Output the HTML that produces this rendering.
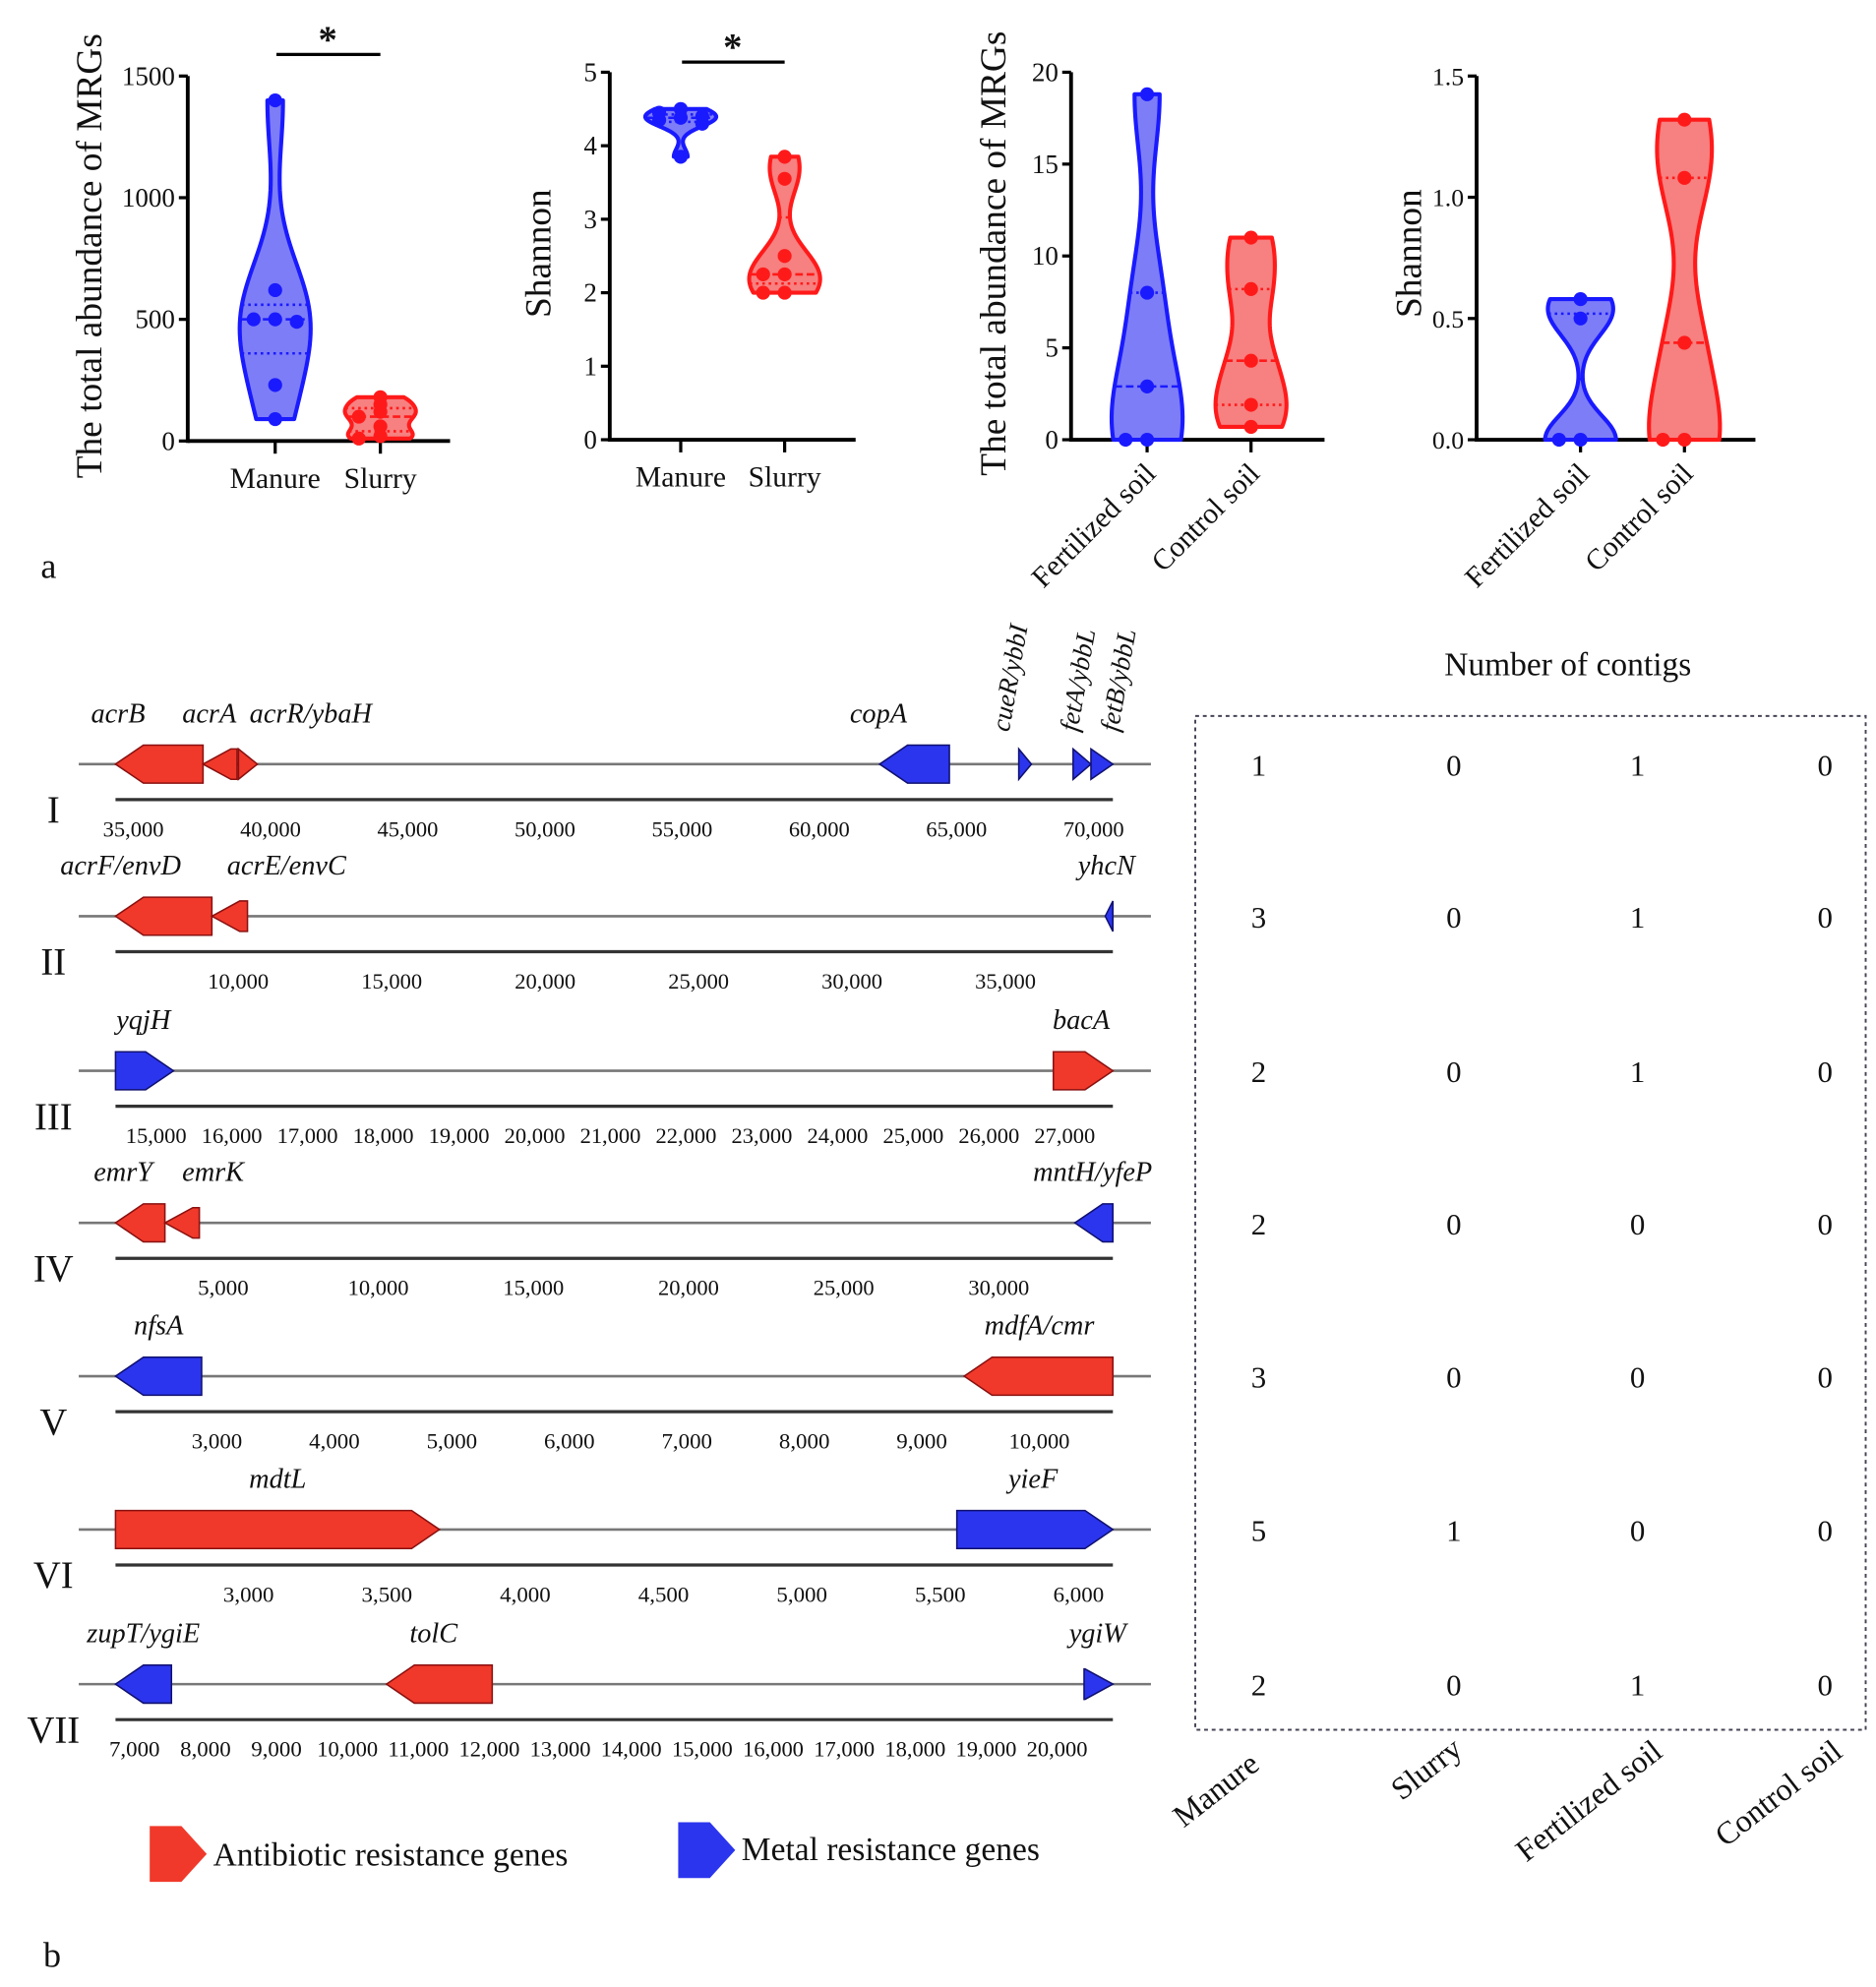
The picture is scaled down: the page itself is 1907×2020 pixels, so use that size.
<!DOCTYPE html>
<html><head><meta charset="utf-8"><style>
html,body{margin:0;padding:0;background:#fff}
svg{display:block}
text{font-family:"Liberation Serif",serif;fill:#111}
</style></head><body>
<svg id="fig" width="1907" height="2020" viewBox="0 0 1480 1568" xmlns="http://www.w3.org/2000/svg">
<g id="root"></g>
</svg>
<script>
// ---------- Panel a data ----------
const a1Categories = ["Manure", "Slurry"];
const a1Manure = [1400, 620, 500, 500, 490, 230, 90];
const a1Slurry = [180, 150, 120, 100, 60, 20, 10];
const a1Ticks = [0, 500, 1000, 1500];

const a2Categories = ["Manure", "Slurry"];
const a2Manure = [4.5, 4.45, 4.4, 4.38, 4.35, 4.3, 3.85];
const a2Slurry = [3.85, 3.55, 2.5, 2.25, 2.25, 2.0, 2.0];
const a2Ticks = [0, 1, 2, 3, 4, 5];

const a3Categories = ["Fertilized soil", "Control soil"];
const a3Fert = [18.8, 8, 2.9, 0, 0];
const a3Control = [11, 8.2, 4.3, 1.9, 0.7];
const a3Ticks = [0, 5, 10, 15, 20];

const a4Categories = ["Fertilized soil", "Control soil"];
const a4Fert = [0.58, 0.5, 0, 0];
const a4Control = [1.32, 1.08, 0.4, 0, 0];
const a4Ticks = ["0.0", "0.5", "1.0", "1.5"];

// ---------- Panel b data ----------
const trackNames = ["I", "II", "III", "IV", "V", "VI", "VII"];
const trackStart = [34350, 6000, 14464, 1528, 2137, 2519, 6732];
const trackEnd = [70700, 38500, 27636, 33676, 10626, 6124, 20786];
const trackTicks = [
  [35000,40000,45000,50000,55000,60000,65000,70000],
  [10000,15000,20000,25000,30000,35000],
  [15000,16000,17000,18000,19000,20000,21000,22000,23000,24000,25000,26000,27000],
  [5000,10000,15000,20000,25000,30000],
  [3000,4000,5000,6000,7000,8000,9000,10000],
  [3000,3500,4000,4500,5000,5500,6000],
  [7000,8000,9000,10000,11000,12000,13000,14000,15000,16000,17000,18000,19000,20000]
];
const geneTrack = [0,0,0,0,0,0,0, 1,1,1, 2,2, 3,3,3, 4,4, 5,5, 6,6,6];
const geneName = ["acrB","acrA","acrR/ybaH","copA","cueR/ybbI","fetA/ybbL","fetB/ybbL",
 "acrF/envD","acrE/envC","yhcN","yqjH","bacA","emrY","emrK","mntH/yfeP","nfsA","mdfA/cmr","mdtL","yieF","zupT/ygiE","tolC","ygiW"];
const geneStart = [34350,37540,38830,62200,67270,69250,69900, 6000,9140,38250, 14464,26850, 1528,3120,32450, 2137,9360, 2519,5560, 6732,10550,20380];
const geneEnd = [37540,38780,39520,64740,67730,69900,70700, 9140,10300,38500, 15230,27636, 3120,4230,33676, 2870,10626, 3690,6124, 7520,12040,20786];
const geneStrand = [-1,-1,1,-1,1,1,1, -1,-1,-1, 1,1, -1,-1,-1, -1,-1, 1,1, -1,-1,1];
const geneType = ["a","a","a","m","m","m","m", "a","a","m", "m","a", "a","a","m", "m","a", "a","m", "m","a","m"];
const contigCols = ["Manure","Slurry","Fertilized soil","Control soil"];
const contigManure = [1,3,2,2,3,5,2];
const contigSlurry = [0,0,0,0,0,1,0];
const contigFert = [1,1,1,0,0,0,1];
const contigControl = [0,0,0,0,0,0,0];

// ---------- helpers ----------
const NS = "http://www.w3.org/2000/svg";
const root = document.getElementById("root");
function mk(tag, attrs, parent, txt){
  const e = document.createElementNS(NS, tag);
  for (const k in attrs) e.setAttribute(k, attrs[k]);
  if (txt !== undefined) e.textContent = txt;
  (parent || root).appendChild(e);
  return e;
}
const BLUE = "#1a1aff", BLUEF = "#7d7df7", RED = "#ff1a1a", REDF = "#f78080";

function quant(arr, q){
  const s = [...arr].sort((a,b)=>a-b); const p = (s.length-1)*q;
  const lo = Math.floor(p), hi = Math.ceil(p); return s[lo] + (s[hi]-s[lo])*(p-lo);
}

function violin(g, vals, cx, yScale, maxHW, stroke, fill, name){
  const mn = Math.min(...vals), mx = Math.max(...vals);
  const range = (mx - mn) || 1; const bw = range * 0.17;
  const N = 60; const prof = [];
  for (let i=0;i<=N;i++){
    const v = mn + range*i/N; let d = 0;
    for (const x of vals) d += Math.exp(-0.5*((v-x)/bw)**2);
    prof.push([v,d]);
  }
  const dm = Math.max(...prof.map(p=>p[1]));
  let right = "", left = "";
  prof.forEach(([v,d],i)=>{ const w = d/dm*maxHW; right += (i?"L":"M")+(cx+w)+","+yScale(v); });
  for (let i=N;i>=0;i--){ const [v,d]=prof[i]; left += "L"+(cx-d/dm*maxHW)+","+yScale(v); }
  const p = mk("path",{d:right+left+"Z",fill:fill,stroke:stroke,"stroke-width":3.2,"stroke-linejoin":"round"},g);
  
  
  const hwAt = v => { let d=0; for (const x of vals) d+=Math.exp(-0.5*((v-x)/bw)**2); return d/dm*maxHW; };
  [[0.25,"2,3"],[0.5,"6,3"],[0.75,"2,3"]].forEach(([q,dash])=>{
    const v = quant(vals,q), w = hwAt(v);
    const l = mk("line",{x1:cx-w,x2:cx+w,y1:yScale(v),y2:yScale(v),stroke:stroke,"stroke-width":2,"stroke-dasharray":dash},g);
    
    
  });
  const counts = {};
  vals.forEach(v=>{
    const key = Math.round(yScale(v)/8); counts[key]=(counts[key]||0)+1;
    const k = counts[key]-1; const off = k===0?0:(k%2?-1:1)*Math.ceil(k/2)*17;
    const c = mk("circle",{cx:cx+off,cy:yScale(v),r:5.5,fill:stroke},g);
    
    
  });
}

function violinPanel(opt){
  const g = mk("g",{});  
  const tmax = parseFloat(opt.ticks[opt.ticks.length-1]);
  const y = v => opt.y0 - (v/tmax)*(opt.y0-opt.y1);
  mk("line",{x1:opt.ax,x2:opt.ax,y1:opt.y1,y2:opt.y0+1.5,stroke:"#000","stroke-width":3},g);
  mk("line",{x1:opt.ax,x2:opt.xEnd,y1:opt.y0,y2:opt.y0,stroke:"#000","stroke-width":3},g);
  opt.ticks.forEach(t=>{
    const yy = y(parseFloat(t));
    mk("line",{x1:opt.ax-7,x2:opt.ax,y1:yy,y2:yy,stroke:"#000","stroke-width":2.5},g);
    const tx = mk("text",{x:opt.ax-10,y:yy+7,"text-anchor":"end","font-size":opt.tickFs||21},g,String(t));
     
  });
  const tt = mk("text",{x:0,y:0,"font-size":29,"text-anchor":"middle",transform:`translate(${opt.titleX},${opt.titleY}) rotate(-90)`},g,opt.title);
   
  opt.cats.forEach((c,i)=>{
    const cx = opt.cx[i];
    mk("line",{x1:cx,x2:cx,y1:opt.y0,y2:opt.y0+10,stroke:"#000","stroke-width":2.5},g);
    let lab;
    if (opt.rot) lab = mk("text",{x:0,y:0,"font-size":23,"text-anchor":"end",transform:`translate(${cx+8},${opt.y0+28}) rotate(-45)`},g,c);
    else lab = mk("text",{x:cx,y:opt.y0+37,"font-size":23,"text-anchor":"middle"},g,c);
     
  });
  violin(g, opt.s1, opt.cx[0], y, 28, BLUE, BLUEF, opt.cats[0].toLowerCase().replace(' ','-'));
  violin(g, opt.s2, opt.cx[1], y, 28, RED, REDF, opt.cats[1].toLowerCase().replace(' ','-'));
  if (opt.sig){
    const b = mk("line",{x1:opt.cx[0]+1,x2:opt.cx[1],y1:opt.sig,y2:opt.sig,stroke:"#000","stroke-width":2.5},g);
    
    const s = mk("text",{x:(opt.cx[0]+opt.cx[1])/2,y:opt.sig-2,"font-size":30,"font-weight":"bold","text-anchor":"middle"},g,"*");
    
  }
}

violinPanel({name:"abundance-manure-slurry",ax:148,y0:348,y1:60,xEnd:355,ticks:a1Ticks,cats:a1Categories,cx:[217,300],s1:a1Manure,s2:a1Slurry,title:"The total abundance of MRGs",titleX:80,titleY:202,sig:43});
violinPanel({name:"shannon-manure-slurry",ax:481,y0:347,y1:57,xEnd:675,ticks:a2Ticks,cats:a2Categories,cx:[537,619],s1:a2Manure,s2:a2Slurry,title:"Shannon",titleX:434,titleY:200,sig:49});
violinPanel({name:"abundance-soil",ax:845,y0:347,y1:57,xEnd:1045,ticks:a3Ticks,cats:a3Categories,cx:[905,987],s1:a3Fert,s2:a3Control,title:"The total abundance of MRGs",titleX:793,titleY:200,rot:true});
violinPanel({name:"shannon-soil",ax:1165,y0:347,y1:60,xEnd:1385,ticks:a4Ticks,cats:a4Categories,cx:[1247,1329],s1:a4Fert,s2:a4Control,title:"Shannon",titleX:1121,titleY:200,rot:true,tickFs:20});

let t = mk("text",{x:32,y:456,"font-size":28},root,"a");  
t = mk("text",{x:34,y:1552,"font-size":28},root,"b");  

// ---------- gene tracks ----------
const trackY = [603,723,845,965,1086,1207,1329];
const X0 = 91, X1 = 878;
const labelYOff = -33;
const rotated = {"cueR/ybbI":[796,578],"fetA/ybbL":[850,578],"fetB/ybbL":[882,578]};
trackNames.forEach((nm,i)=>{
  const g = mk("g",{});  
  const ty = trackY[i];
  const sx = v => X0 + (v-trackStart[i])/(trackEnd[i]-trackStart[i])*(X1-X0);
  mk("line",{x1:62,x2:908,y1:ty,y2:ty,stroke:"#777","stroke-width":2},g);
  const ay = ty+28;
  mk("line",{x1:X0,x2:X1,y1:ay,y2:ay,stroke:"#333","stroke-width":2.5},g);
  trackTicks[i].forEach(v=>{
    const tx = mk("text",{x:sx(v),y:ay+29,"font-size":17,"text-anchor":"middle",textLength:v>=10000?48:40,lengthAdjust:"spacingAndGlyphs"},g,v.toLocaleString("en-US"));
     
  });
  const rn = mk("text",{x:42,y:ty+46,"font-size":30,"text-anchor":"middle"},g,nm);
   
});
const labelX = {"acrR/ybaH":245,"acrA":165,"acrE/envC":226,"emrK":168,"mntH/yfeP":862,"mdtL":219,"yieF":815,"tolC":342,"zupT/ygiE":113,"acrF/envD":95,"copA":693,"yhcN":873,"ygiW":866,"nfsA":125,"mdfA/cmr":820,"emrY":97,"acrB":93,"yqjH":113,"bacA":853};
geneName.forEach((nm,k)=>{
  const i = geneTrack[k], ty = trackY[i];
  const sx = v => X0 + (v-trackStart[i])/(trackEnd[i]-trackStart[i])*(X1-X0);
  const x1 = sx(geneStart[k]), x2 = sx(geneEnd[k]);
  const len = x2-x1; const h = len < 30 ? 12 : 15; const hl = Math.min(22, len);
  let pts;
  if (geneStrand[k] < 0) pts = [[x1,ty],[x1+hl,ty-h],[x2,ty-h],[x2,ty+h],[x1+hl,ty+h]];
  else pts = [[x2,ty],[x2-hl,ty-h],[x1,ty-h],[x1,ty+h],[x2-hl,ty+h]];
  const anti = geneType[k]==="a";
  const p = mk("polygon",{points:pts.map(q=>q.join(",")).join(" "),fill:anti?"#f0392a":"#2b35ee",stroke:anti?"#8a1010":"#101070","stroke-width":1.2});
  
  
  let lab;
  if (rotated[nm]) lab = mk("text",{x:0,y:0,"font-size":21,"font-style":"italic",transform:`translate(${rotated[nm][0]},${rotated[nm][1]}) rotate(-80)`},root,nm);
  else {
    const cx = labelX[nm] !== undefined ? labelX[nm] : (x1+x2)/2;
    lab = mk("text",{x:cx,y:ty+labelYOff,"font-size":22,"font-style":"italic","text-anchor":"middle"},root,nm);
  }
  
  
});

// legend
[[118,"#f0392a","Antibiotic resistance genes",168,1472,1463],[535,"#2b35ee","Metal resistance genes",585,1468,1460]].forEach(([x,c,txt,tx,ty,cy])=>{
  const p = mk("polygon",{points:`${x},${cy-22} ${x+25},${cy-22} ${x+45},${cy} ${x+25},${cy+22} ${x},${cy+22}`,fill:c});
   
  const l = mk("text",{x:tx,y:ty,"font-size":26},root,txt);
   
});

// contig table
const tb = mk("g",{});  
mk("rect",{x:943,y:565,width:529,height:800,fill:"none",stroke:"#445","stroke-width":1.5,"stroke-dasharray":"3,3"},tb);
t = mk("text",{x:1237,y:533,"font-size":26,"text-anchor":"middle"},tb,"Number of contigs");
 
const colX = [993,1147,1292,1440];
const colsData = [contigManure, contigSlurry, contigFert, contigControl];
colsData.forEach((col,c)=>{
  col.forEach((v,r)=>{
    const cell = mk("text",{x:colX[c],y:trackY[r]+9,"font-size":24,"text-anchor":"middle"},tb,String(v));
     
  });
});
const colLabelPos = [[995,1395],[1155,1383],[1313,1385],[1455,1385]];
contigCols.forEach((c,i)=>{
  const l = mk("text",{x:0,y:0,"font-size":25,"text-anchor":"end",transform:`translate(${colLabelPos[i][0]},${colLabelPos[i][1]}) rotate(-38)`},tb,c);
   
});
</script>
</body></html>
